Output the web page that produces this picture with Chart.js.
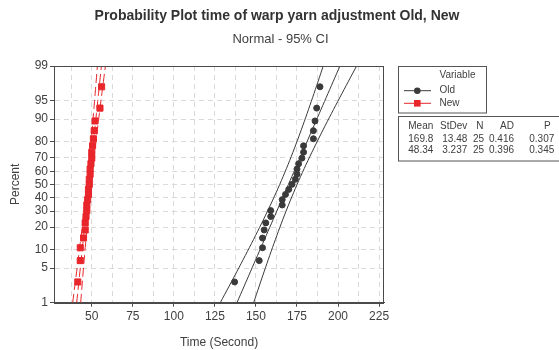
<!DOCTYPE html>
<html>
<head>
<meta charset="utf-8">
<script src="https://cdn.jsdelivr.net/npm/chart.js@4"></script>
<style>
html,body{margin:0;padding:0;background:#fff;}
#wrap{width:559px;height:350px;position:relative;}
</style>
</head>
<body>
<div id="wrap"><canvas id="c" width="559" height="350"></canvas></div>
<script>
// ---- data ----
const variables = ['Old', 'New'];
const oldTimes = [137, 152, 154, 154, 155, 156, 159, 159, 166, 166, 168, 170, 172, 174, 175, 175, 176, 178, 179, 179, 185, 185, 186, 187, 189];
const newTimes = [41.5, 43, 43, 45, 46, 46, 46.5, 47, 47, 47.5, 48, 48, 48.5, 48.5, 49, 49, 49.5, 50, 50, 50.5, 51, 51.5, 52, 55, 56];
const percentTicks = [1, 5, 10, 20, 30, 40, 50, 60, 70, 80, 90, 95, 99];
const xTicks = [50, 75, 100, 125, 150, 175, 200, 225];
const xMinorGrid = [37.5, 62.5, 87.5, 112.5, 137.5, 162.5, 187.5, 212.5];
const statsHeader = ['Mean', 'StDev', 'N', 'AD', 'P'];
const oldStats = ['169.8', '13.48', '25', '0.416', '0.307'];
const newStats = ['48.34', '3.237', '25', '0.396', '0.345'];
const titleText = 'Probability Plot time of warp yarn adjustment Old, New';
const subtitleText = 'Normal - 95% CI';

// ---- helpers ----
function normInv(p){
  const a=[-3.969683028665376e+01,2.209460984245205e+02,-2.759285104469687e+02,1.383577518672690e+02,-3.066479806614716e+01,2.506628277459239e+00];
  const b=[-5.447609879822406e+01,1.615858368580409e+02,-1.556989798598866e+02,6.680131188771972e+01,-1.328068155288572e+01];
  const c=[-7.784894002430293e-03,-3.223964580411365e-01,-2.400758277161838e+00,-2.549671010229838e+00,4.374664141464968e+00,2.938163982698783e+00];
  const d=[7.784695709041462e-03,3.224671290700398e-01,2.445134137142996e+00,3.754408661907416e+00];
  const pl=0.02425, ph=1-pl; let q,r;
  if(p<pl){q=Math.sqrt(-2*Math.log(p));return (((((c[0]*q+c[1])*q+c[2])*q+c[3])*q+c[4])*q+c[5])/((((d[0]*q+d[1])*q+d[2])*q+d[3])*q+1);}
  if(p<=ph){q=p-0.5;r=q*q;return (((((a[0]*r+a[1])*r+a[2])*r+a[3])*r+a[4])*r+a[5])*q/(((((b[0]*r+b[1])*r+b[2])*r+b[3])*r+b[4])*r+1);}
  q=Math.sqrt(-2*Math.log(1-p));return -(((((c[0]*q+c[1])*q+c[2])*q+c[3])*q+c[4])*q+c[5])/((((d[0]*q+d[1])*q+d[2])*q+d[3])*q+1);
}
const zMin = normInv(percentTicks[0]/100);
const zMax = normInv(percentTicks[percentTicks.length-1]/100);

// plotting positions (median ranks)
function probPoints(vals){
  const s = vals.slice().sort((a,b)=>a-b);
  const n = s.length;
  return s.map((v,i)=>({x:v, y:normInv((i+1-0.3)/(n+0.4))}));
}
// fitted line and 95% CI from the table's mean / stdev
function fitLines(stats){
  const m = parseFloat(stats[0]), sd = parseFloat(stats[1]), n = parseFloat(stats[2]);
  const fit=[], lo=[], hi=[];
  const steps = 60;
  for(let k=0;k<=steps;k++){
    const z = zMin + (zMax-zMin)*k/steps;
    const x = m + z*sd;
    const h = 1.96*sd*Math.sqrt((1 + z*z/2)/n);
    fit.push({x:x, y:z}); lo.push({x:x-h, y:z}); hi.push({x:x+h, y:z});
  }
  return {fit, lo, hi};
}

const OLD_COL = '#3a3a3a';
const NEW_COL = '#e8262b';
const TXT = '#404040';
const FONT = "'Liberation Sans', Arial, sans-serif";

const oldL = fitLines(oldStats);
const newL = fitLines(newStats);

function lineDs(data, color, dash){
  return {type:'scatter', data, showLine:true, borderColor:color, borderWidth:1, pointRadius:0, borderDash:dash, fill:false, order:2, tension:0};
}

const datasets = [
  {label:variables[0], data:probPoints(oldTimes), backgroundColor:OLD_COL, borderColor:OLD_COL, pointStyle:'circle', pointRadius:3, pointBorderWidth:1, order:0},
  {label:variables[1], data:probPoints(newTimes), backgroundColor:NEW_COL, borderColor:NEW_COL, pointStyle:'rect', pointRadius:4.3, pointBorderWidth:1, order:0},
  lineDs(oldL.fit, OLD_COL, []), lineDs(oldL.lo, OLD_COL, []), lineDs(oldL.hi, OLD_COL, []),
  lineDs(newL.fit, NEW_COL, [9,4]), lineDs(newL.lo, NEW_COL, [9,4]), lineDs(newL.hi, NEW_COL, [9,4])
];

const decor = {
  id:'decor',
  afterDraw(chart){
    const ctx = chart.ctx, a = chart.chartArea;
    ctx.save();
    // plot frame
    ctx.strokeStyle = '#4a4a4a'; ctx.lineWidth = 1;
    ctx.strokeRect(Math.round(a.left)+0.5, Math.round(a.top)+0.5, Math.round(a.right-a.left)-1, Math.round(a.bottom-a.top));
    // titles
    ctx.fillStyle = '#333'; ctx.textAlign='center'; ctx.textBaseline='middle';
    ctx.font = "bold 14px " + FONT;
    ctx.fillText(titleText, 277, 16);
    ctx.font = "13px " + FONT; ctx.fillStyle = TXT;
    ctx.fillText(subtitleText, 280.5, 39);
    // legend box
    ctx.strokeStyle = '#555'; ctx.lineWidth = 1;
    ctx.strokeRect(398.5, 66.5, 88, 46.5);
    ctx.font = "10px " + FONT; ctx.textAlign='left'; ctx.fillStyle = TXT;
    ctx.fillText('Variable', 439.5, 75);
    const rows = [[variables[0], 90.7, datasets[0]], [variables[1], 103.3, datasets[1]]];
    rows.forEach(([name, y, ds])=>{
      ctx.strokeStyle = ds.borderColor; ctx.lineWidth = 1; ctx.setLineDash([]);
      ctx.beginPath(); ctx.moveTo(404, y); ctx.lineTo(431, y); ctx.stroke();
      ctx.fillStyle = ds.backgroundColor;
      if(ds.pointStyle==='circle'){ ctx.beginPath(); ctx.arc(417.3, y, 3.3, 0, Math.PI*2); ctx.fill(); }
      else { ctx.fillRect(414, y-3.3, 6.6, 6.6); }
      ctx.fillStyle = TXT; ctx.fillText(name, 439.5, y);
    });
    // stats table
    ctx.strokeStyle = '#555';
    ctx.strokeRect(398.5, 116.5, 200, 44.5);
    ctx.textAlign = 'right'; ctx.fillStyle = TXT; ctx.font = "10px " + FONT;
    const hdrX = [433.3, 467.3, 483.5, 514, 550.7];
    const valX = [433.3, 467.3, 484, 514, 554.3];
    statsHeader.forEach((t,i)=>ctx.fillText(t, hdrX[i], 126.7));
    oldStats.forEach((t,i)=>ctx.fillText(t, valX[i], 139.3));
    newStats.forEach((t,i)=>ctx.fillText(t, valX[i], 150.7));
    ctx.restore();
  }
};

new Chart(document.getElementById('c'), {
  type:'scatter',
  data:{datasets},
  options:{
    responsive:false, animation:false, events:[],
    layout:{padding:{left:0, top:66, right:175, bottom:0}},
    plugins:{legend:{display:false}, tooltip:{enabled:false}, title:{display:false}},
    scales:{
      x:{
        type:'linear', min:27, max:228,
        afterBuildTicks:(s)=>{ s.ticks = xMinorGrid.concat(xTicks).sort((p,q)=>p-q).map(v=>({value:v})); },
        afterFit:(s)=>{ s.height = 47.3; },
        ticks:{autoSkip:false, maxRotation:0, padding:3, color:TXT, font:{family:FONT, size:12},
          callback:(v)=> xTicks.includes(v) ? String(v) : ''},
        grid:{color:'#dadada', lineWidth:1, tickLength:4, tickWidth:1,
          tickColor:(c)=> (c.tick && xTicks.includes(c.tick.value)) ? '#4a4a4a' : 'rgba(0,0,0,0)'},
        border:{display:true, color:'#4a4a4a', dash:[5,4]},
        title:{display:true, text:'Time (Second)', color:TXT, font:{family:FONT, size:12}, padding:{top:0, bottom:0}}
      },
      y:{
        type:'linear', min:zMin, max:zMax,
        afterBuildTicks:(s)=>{ s.ticks = percentTicks.map(p=>({value:normInv(p/100)})); },
        afterFit:(s)=>{ s.width = 54; },
        ticks:{autoSkip:false, padding:2, color:TXT, font:{family:FONT, size:12},
          callback:(v, i)=> String(percentTicks[i])},
        grid:{color:'#dadada', lineWidth:1, tickLength:4, tickWidth:1, tickColor:'#4a4a4a'},
        border:{display:true, color:'#4a4a4a', dash:[5,4]},
        title:{display:true, text:'Percent', color:TXT, font:{family:FONT, size:12}, padding:{top:8, bottom:0}}
      }
    }
  },
  plugins:[decor]
});
</script>
</body>
</html>
